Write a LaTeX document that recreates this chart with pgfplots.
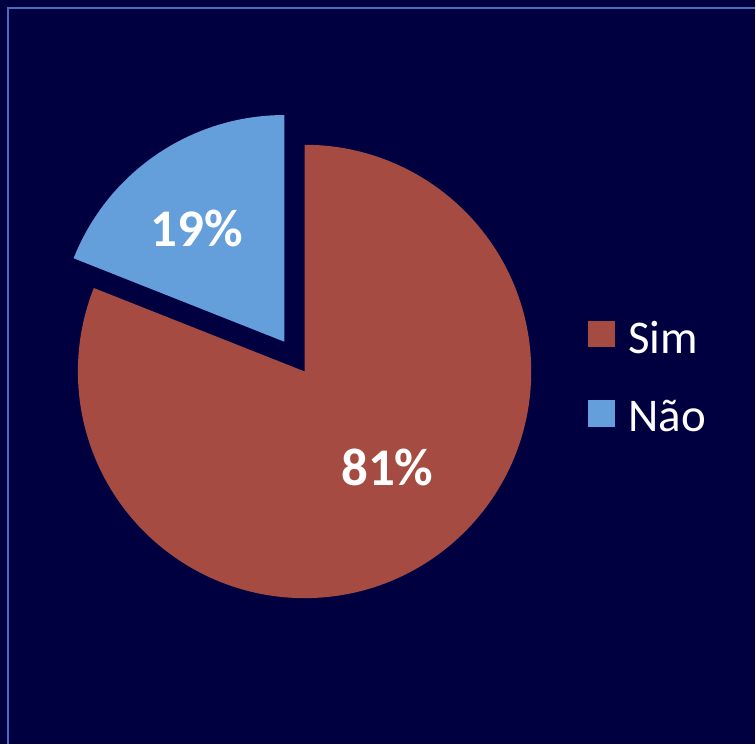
\documentclass[border=0pt]{standalone}
\usepackage{pgfplots}
\pgfplotsset{compat=1.18}
\usepackage{pgfplotstable}
\usepackage{fontspec}
\setmainfont{Carlito}
\usetikzlibrary{calc}
\definecolor{bgnavy}{RGB}{0,0,64}
\definecolor{framecol}{RGB}{72,108,190}
\definecolor{simred}{RGB}{166,75,66}
\definecolor{naoblue}{RGB}{100,159,219}
% value, label position (x, baseline y)
\pgfplotstableread{
label value lx ly
Sim 81 388 259
Nao 19 197 498
}\piedata
\begin{document}
\begin{tikzpicture}
\pgfplotstablegetelem{0}{value}\of\piedata \let\vsim\pgfplotsretval
\pgfplotstablegetelem{1}{value}\of\piedata \let\vnao\pgfplotsretval
\pgfmathsetmacro{\aend}{90-3.6*\vsim}
\pgfmathsetmacro{\nend}{90+3.6*\vnao}
\pgfmathsetmacro{\amid}{90+1.8*\vnao}
\begin{axis}[
  scale only axis, width=756pt, height=745pt,
  xmin=0, xmax=756, ymin=0, ymax=745,
  hide axis, clip=false]
\fill[bgnavy] (axis cs:0,0) rectangle (axis cs:756,745);
\draw[framecol, line width=2.2pt] (axis cs:8,0) -- (axis cs:8,737) -- (axis cs:756,737);
% Sim slice
\fill[simred] (axis cs:305,373) -- ++(90:227pt) arc[start angle=90, end angle=\aend, radius=227pt] -- cycle;
% Nao slice (exploded)
\fill[naoblue] ($(axis cs:305,373)+(\amid:36pt)$) -- ++(90:227pt) arc[start angle=90, end angle=\nend, radius=227pt] -- cycle;
% data labels
\node[anchor=base, inner sep=0pt, text=white, font=\bfseries\fontsize{53}{62}\selectfont] at (axis cs:388,259) {\vsim\%};
\node[anchor=base, inner sep=0pt, text=white, font=\bfseries\fontsize{53}{62}\selectfont] at (axis cs:197,498) {\vnao\%};
% legend
\fill[simred] (axis cs:589,397) rectangle (axis cs:616,424);
\node[anchor=base west, inner sep=0pt, text=white, font=\fontsize{47}{56}\selectfont] at (axis cs:629,391) {Sim};
\fill[naoblue] (axis cs:589,317) rectangle (axis cs:616,344);
\node[anchor=base west, inner sep=0pt, text=white, font=\fontsize{47}{56}\selectfont] at (axis cs:629,313) {Não};
\end{axis}
\end{tikzpicture}
\end{document}
